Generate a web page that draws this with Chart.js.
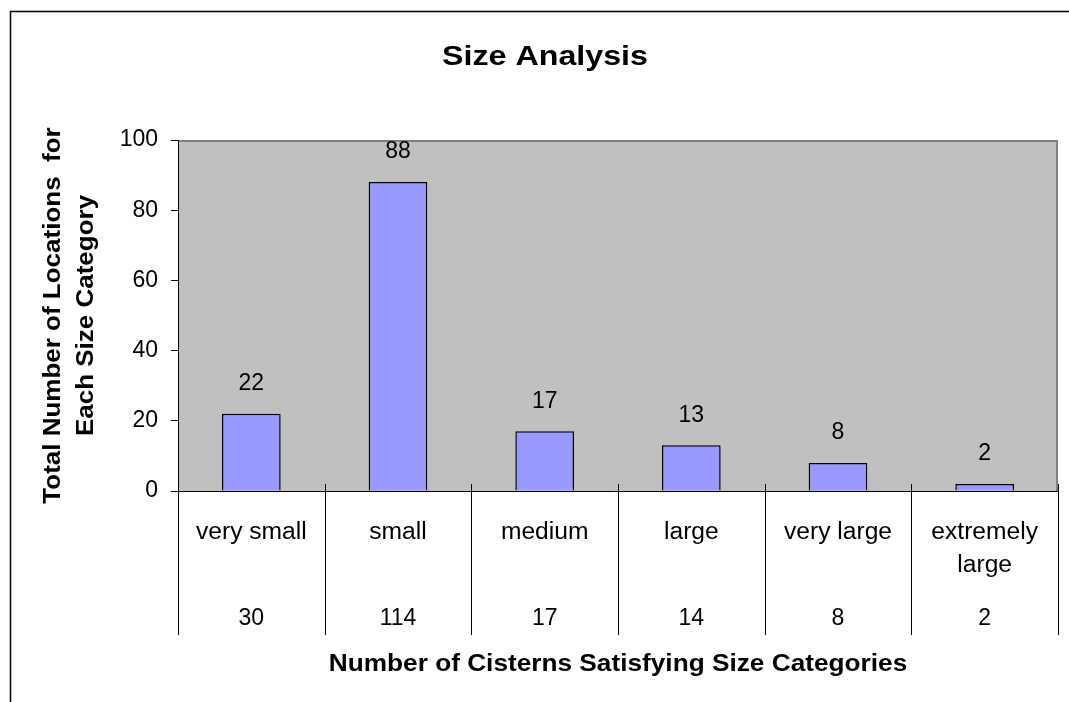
<!DOCTYPE html>
<html>
<head>
<meta charset="utf-8">
<title>Size Analysis</title>
<script src="https://cdn.jsdelivr.net/npm/chart.js@4/dist/chart.umd.min.js"></script>
<style>
  html, body { margin: 0; padding: 0; background: #ffffff; }
  #wrap { width: 1069px; height: 702px; }
</style>
</head>
<body>
<div id="wrap"><canvas id="c" width="1069" height="702"></canvas></div>
<script>
// Size categories and the two counts shown for each
const categories = ['very small', 'small', 'medium', 'large', 'very large', ['extremely', 'large']];
const locationCounts = [22, 88, 17, 13, 8, 2];     // plotted bars
const cisternCounts = [30, 114, 17, 14, 8, 2];     // table row under the axis
const yTicks = [0, 20, 40, 60, 80, 100];

const chartTitle = 'Size Analysis';
const yTitle = ['Total Number of Locations  for', 'Each Size Category'];
const xTitle = 'Number of Cisterns Satisfying Size Categories';

const FONT = '"Liberation Sans", Arial, Helvetica, sans-serif';

// draws centred text, optionally widened a little horizontally
function wideText(ctx, text, x, y, sx) {
  ctx.save();
  ctx.translate(x, y);
  ctx.scale(sx, 1);
  ctx.fillText(text, 0, 0);
  ctx.restore();
}

// Frame, plot background, category table and text drawn around the bars
const decorations = {
  id: 'decorations',
  beforeDraw(chart) {
    const { ctx, chartArea: a } = chart;
    ctx.save();
    ctx.fillStyle = '#ffffff';
    ctx.fillRect(0, 0, chart.width, chart.height);
    // outer frame (top and left edges)
    ctx.strokeStyle = '#000000';
    ctx.lineWidth = 1.5;
    ctx.beginPath();
    ctx.moveTo(10.5, chart.height);
    ctx.lineTo(10.5, 11.5);
    ctx.lineTo(chart.width, 11.5);
    ctx.stroke();
    // plot area
    ctx.fillStyle = '#c0c0c0';
    ctx.fillRect(a.left, a.top, a.right - a.left, a.bottom - a.top);
    ctx.strokeStyle = '#808080';
    ctx.lineWidth = 2;
    ctx.beginPath();
    ctx.moveTo(a.left, a.top + 1);
    ctx.lineTo(a.right - 1, a.top + 1);
    ctx.lineTo(a.right - 1, a.bottom);
    ctx.stroke();
    ctx.restore();
  },
  afterDraw(chart) {
    const { ctx, chartArea: a } = chart;
    const x = chart.scales.x;
    const n = categories.length;
    ctx.save();
    // category separators
    ctx.strokeStyle = '#000000';
    ctx.lineWidth = 1;
    const half = (x.getPixelForValue(1) - x.getPixelForValue(0)) / 2;
    for (let i = 0; i <= n; i++) {
      const px = Math.round(i < n ? x.getPixelForValue(i) - half : x.getPixelForValue(n - 1) + half) + 0.5;
      ctx.beginPath();
      ctx.moveTo(px, a.bottom - 7);
      ctx.lineTo(px, a.bottom + 144);
      ctx.stroke();
    }
    // zero line with its tick
    ctx.beginPath();
    ctx.moveTo(a.left - 7, a.bottom + 0.5);
    ctx.lineTo(a.right, a.bottom + 0.5);
    ctx.stroke();

    ctx.fillStyle = '#000000';
    ctx.textAlign = 'center';
    ctx.textBaseline = 'middle';
    ctx.font = '23px ' + FONT;
    // category names and counts
    categories.forEach((c, i) => {
      const cx = x.getPixelForValue(i);
      const lines = Array.isArray(c) ? c : [c];
      lines.forEach((t, j) => wideText(ctx, t, cx, a.bottom + 42 + j * 33, 1.07));
      ctx.fillText(String(cisternCounts[i]), cx, a.bottom + 128);
    });
    // value labels above bars
    const meta = chart.getDatasetMeta(0);
    meta.data.forEach((bar, i) => {
      ctx.fillText(String(locationCounts[i]), bar.x, bar.y - 30);
    });
    // titles
    ctx.font = 'bold 28px ' + FONT;
    wideText(ctx, chartTitle, 545, 57, 1.15);
    ctx.font = 'bold 23px ' + FONT;
    wideText(ctx, xTitle, (a.left + a.right) / 2, a.bottom + 174, 1.14);
    ctx.translate(70, (a.top + a.bottom) / 2);
    ctx.rotate(-Math.PI / 2);
    wideText(ctx, yTitle[0], 0, -16, 1.13);
    wideText(ctx, yTitle[1], 0, 17, 1.13);
    ctx.restore();
  }
};

new Chart(document.getElementById('c'), {
  type: 'bar',
  data: {
    labels: categories,
    datasets: [{
      data: locationCounts,
      backgroundColor: '#9999ff',
      borderColor: '#000000',
      borderWidth: 1.5,
      barPercentage: 0.4,
      categoryPercentage: 1.0
    }]
  },
  options: {
    responsive: false,
    animation: false,
    events: [],
    layout: { padding: { top: 140, bottom: 211, right: 11, left: 0 } },
    plugins: {
      legend: { display: false },
      title: { display: false },
      tooltip: { enabled: false }
    },
    scales: {
      x: { display: false },
      y: {
        min: 0,
        max: 100,
        afterFit(scale) { scale.width = 178; },
        afterBuildTicks(scale) { scale.ticks = yTicks.map(v => ({ value: v })); },
        ticks: {
          color: '#000000',
          font: { family: FONT, size: 23 },
          padding: 13
        },
        grid: {
          drawOnChartArea: false,
          color: '#000000',
          tickLength: 7,
          tickWidth: 1
        },
        border: { color: '#000000', width: 1 }
      }
    }
  },
  plugins: [decorations]
});
</script>
</body>
</html>
